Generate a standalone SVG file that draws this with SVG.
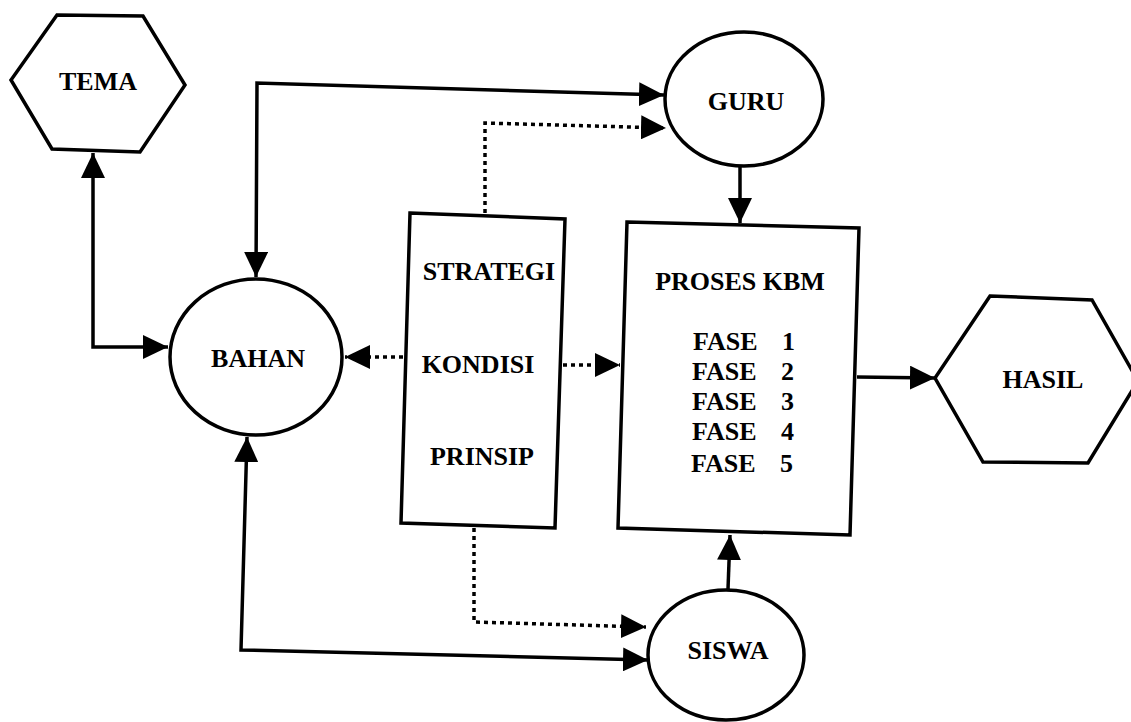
<svg xmlns="http://www.w3.org/2000/svg" width="1131" height="722" viewBox="0 0 1131 722">
<style>
.shape{fill:#fff;stroke:#000;stroke-width:3.5;stroke-linejoin:miter}
.lbl{font-family:"Liberation Serif","Times New Roman",serif;font-weight:bold;font-size:26px;fill:#000;text-anchor:middle}
.lbl2{font-family:"Liberation Serif","Times New Roman",serif;font-weight:bold;font-size:26px;fill:#000}
.solid{fill:none;stroke:#000;stroke-width:3.5}
.dot{fill:none;stroke:#000;stroke-width:3.5;stroke-dasharray:4 4}
</style>
<defs>
<marker id="ah" viewBox="0 0 25 24" refX="25" refY="12" markerWidth="25" markerHeight="24" markerUnits="userSpaceOnUse" orient="auto-start-reverse">
<path d="M0,0 L25,12 L0,24 Z" fill="#000"/>
</marker>
</defs>
<rect width="1131" height="722" fill="#fff"/>
<g id="connectors">
<path class="solid" d="M93,153 L93,347 L168,347" marker-start="url(#ah)" marker-end="url(#ah)"/>
<path class="solid" d="M256,277 L257,83 L664,95" marker-start="url(#ah)" marker-end="url(#ah)"/>
<path class="dot" d="M485,213 L485,123 L666,128" marker-end="url(#ah)"/>
<path class="solid" d="M740,167 L740,223" marker-end="url(#ah)"/>
<path class="dot" d="M403,357 L345,357" marker-end="url(#ah)"/>
<path class="dot" d="M563,365 L620,365" marker-end="url(#ah)"/>
<path class="dot" d="M474,528 L474,622 L646,627" marker-end="url(#ah)"/>
<path class="solid" d="M247,437 L241,650 L648,660" marker-start="url(#ah)" marker-end="url(#ah)"/>
<path class="solid" d="M728,589 L730,535" marker-end="url(#ah)"/>
<path class="solid" d="M857,377 L935,378" marker-end="url(#ah)"/>
</g>
<g id="tema">
<polygon class="shape" points="57,15 143,16 185,85 140,152 52,149 11,80"/>
<text class="lbl" x="98" y="90">TEMA</text>
</g>
<g id="bahan">
<ellipse class="shape" cx="256" cy="357" rx="86" ry="78"/>
<text class="lbl" x="258" y="367">BAHAN</text>
</g>
<g id="guru">
<ellipse class="shape" cx="744" cy="99" rx="79" ry="67"/>
<text class="lbl" x="746" y="110">GURU</text>
</g>
<g id="strategi">
<polygon class="shape" points="410,213 565,219 555,528 401,523"/>
<text class="lbl" x="489" y="280">STRATEGI</text>
<text class="lbl" x="478" y="373">KONDISI</text>
<text class="lbl" x="482" y="465">PRINSIP</text>
</g>
<g id="proses">
<polygon class="shape" points="627,222 859,228 850,535 618,528"/>
<text class="lbl" x="740" y="290">PROSES KBM</text>
<text class="lbl2" x="693" y="350">FASE</text><text class="lbl2" x="782" y="350">1</text>
<text class="lbl2" x="692" y="380">FASE</text><text class="lbl2" x="781" y="380">2</text>
<text class="lbl2" x="692" y="410">FASE</text><text class="lbl2" x="781" y="410">3</text>
<text class="lbl2" x="692" y="440">FASE</text><text class="lbl2" x="781" y="440">4</text>
<text class="lbl2" x="691" y="472">FASE</text><text class="lbl2" x="780" y="472">5</text>
</g>
<g id="siswa">
<ellipse class="shape" cx="726" cy="655" rx="78" ry="65"/>
<text class="lbl" x="728" y="659">SISWA</text>
</g>
<g id="hasil">
<polygon class="shape" points="990,296 1092,300 1138,381 1088,463 983,462 935,378"/>
<text class="lbl" x="1043" y="388">HASIL</text>
</g>
</svg>
